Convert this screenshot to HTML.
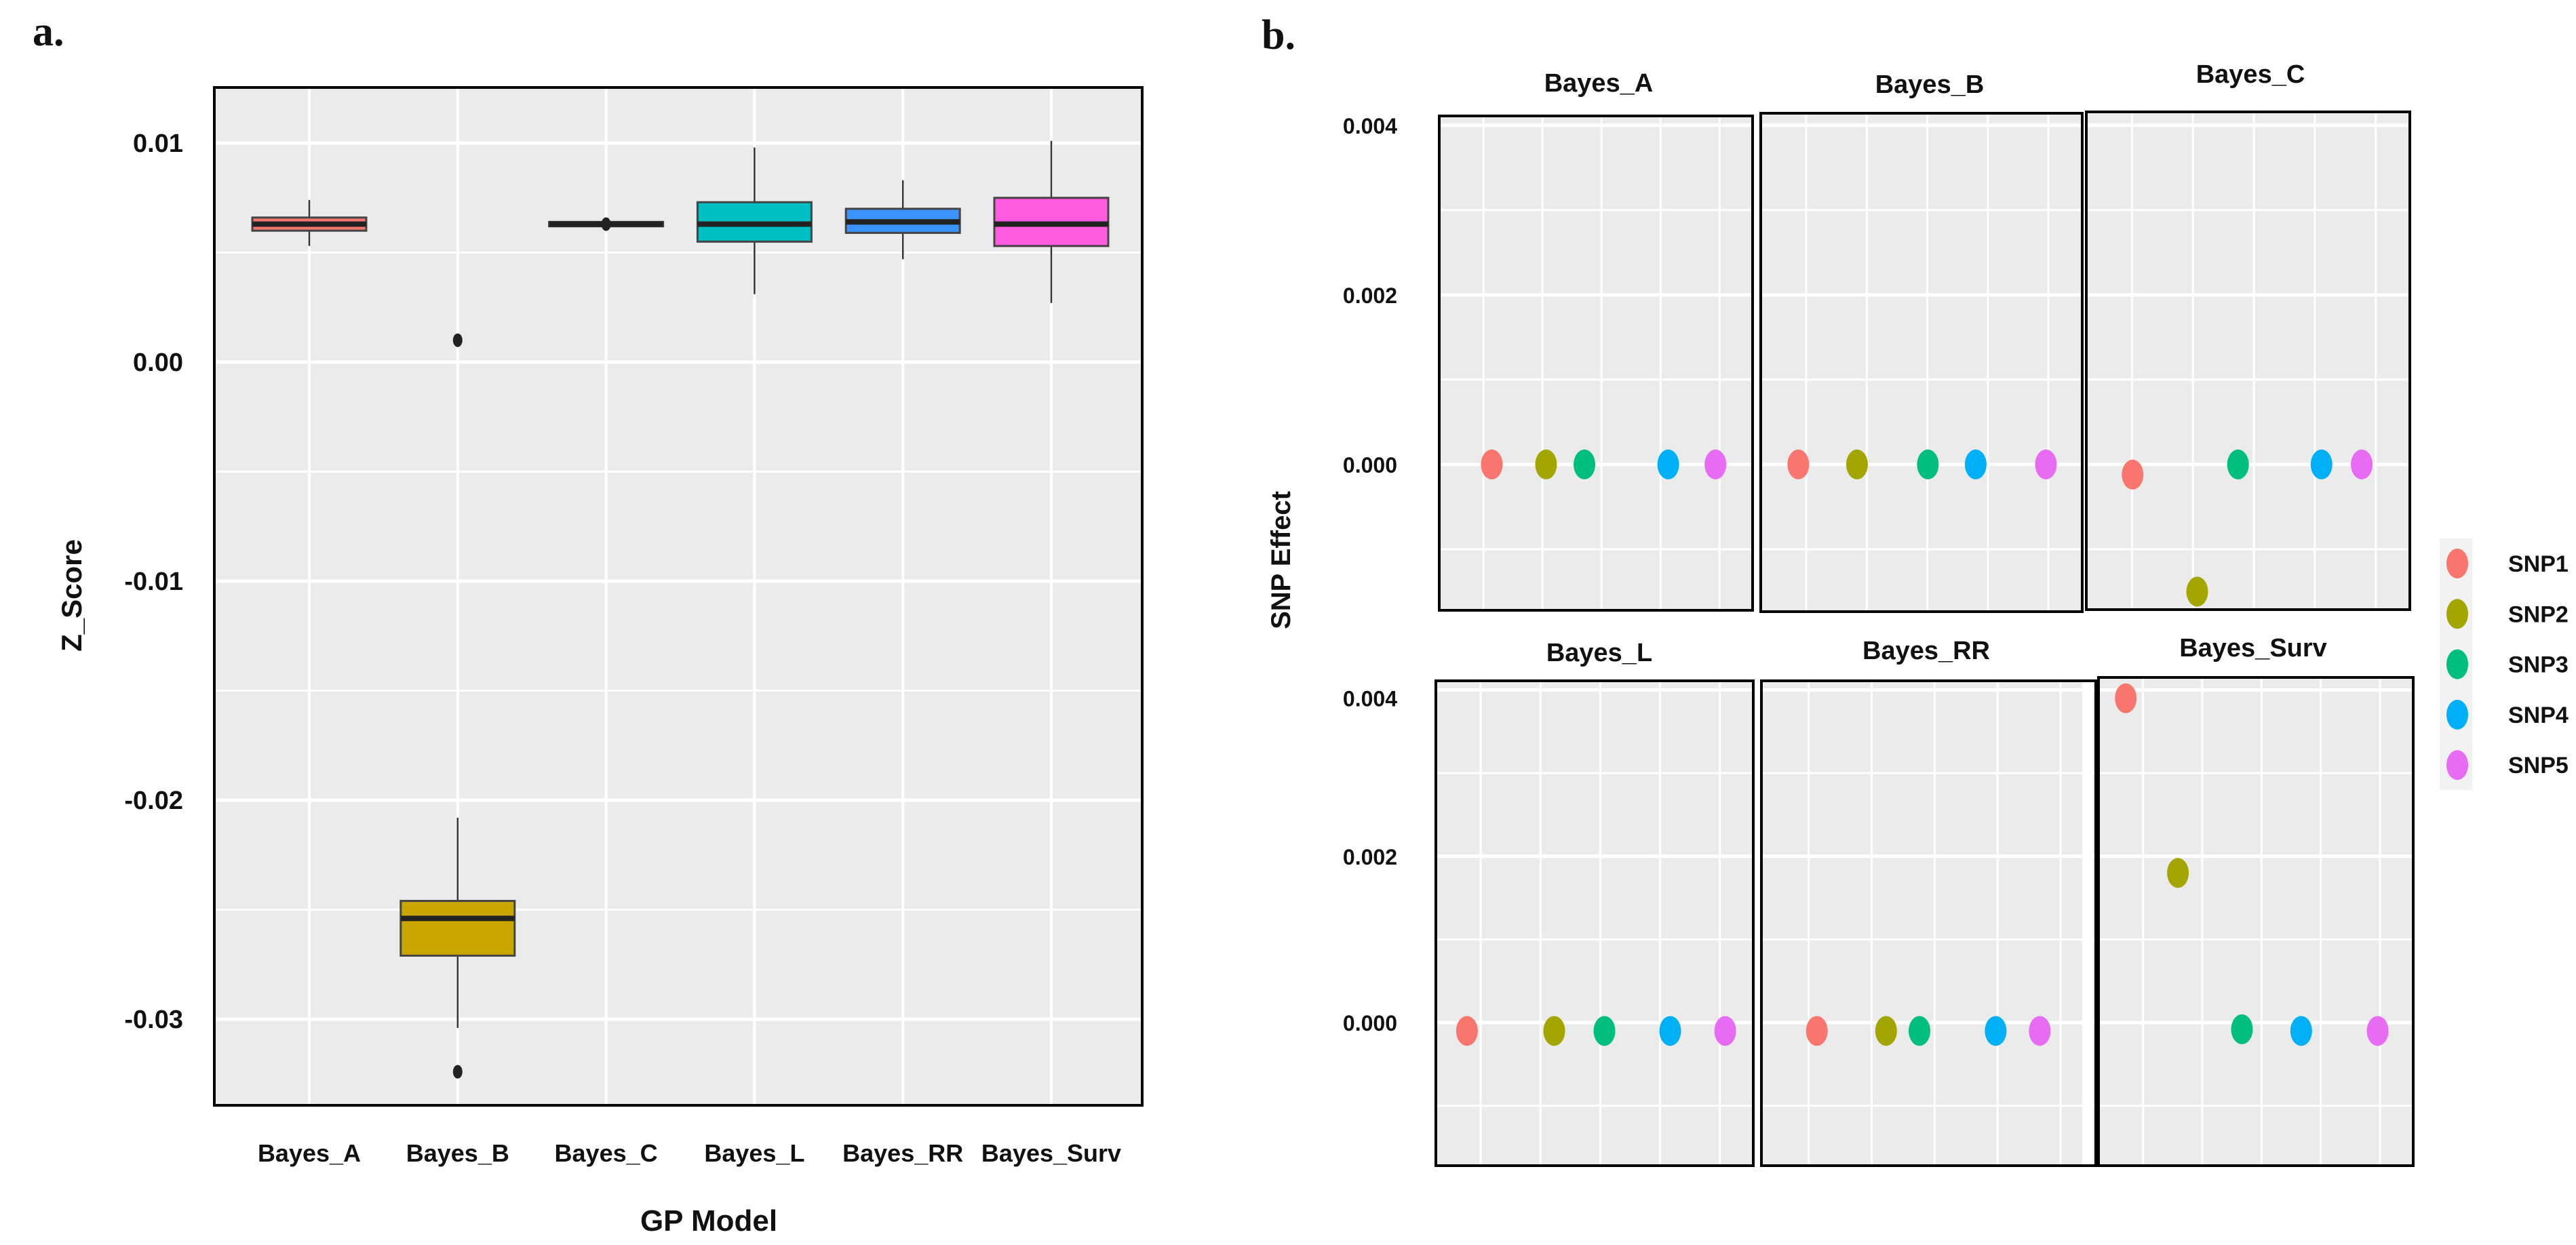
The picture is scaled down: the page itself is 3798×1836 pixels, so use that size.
<!DOCTYPE html>
<html><head><meta charset="utf-8"><style>
html,body{margin:0;padding:0;background:#fff}
svg{display:block}
text{font-family:"Liberation Sans",sans-serif;font-weight:bold;fill:#111}
</style></head><body>
<svg id="fig" width="3798" height="1836" viewBox="0 0 3798 1836" xmlns="http://www.w3.org/2000/svg">
<g id="left"></g>
<g id="right"></g>
</svg>
<script>
// ---------- Panel a data ----------
const models = ["Bayes_A","Bayes_B","Bayes_C","Bayes_L","Bayes_RR","Bayes_Surv"];
const boxColors = ["#F8766D","#C9A600","#00BA38","#00BFC4","#3A93FF","#FF5AE0"];
const whiskerLow = [0.0053,-0.0304,0.0063,0.0031,0.0047,0.0027];
const q1 = [0.0060,-0.0271,0.0062,0.0055,0.0059,0.0053];
const median = [0.0063,-0.0254,0.0063,0.0063,0.0064,0.0063];
const q3 = [0.0066,-0.0246,0.0064,0.0073,0.0070,0.0075];
const whiskerHigh = [0.0074,-0.0208,0.0063,0.0098,0.0083,0.0101];
const outlierModel = [1,1,2];
const outlierValue = [0.0010,-0.0324,0.0063];
const yTicksA = [0.01,0.00,-0.01,-0.02,-0.03];
const yTickLabelsA = ["0.01","0.00","-0.01","-0.02","-0.03"];

// ---------- Panel b data ----------
const facetNames = ["Bayes_A","Bayes_B","Bayes_C","Bayes_L","Bayes_RR","Bayes_Surv"];
const snpNames = ["SNP1","SNP2","SNP3","SNP4","SNP5"];
const snpColors = ["#F8766D","#A3A500","#00BF7D","#00B0F6","#E76BF3"];
const snpX = [
 [1.14,2.06,2.71,4.13,4.93],
 [0.87,1.84,3.01,3.80,4.96],
 [1.01,2.07,2.74,4.11,4.77],
 [0.77,2.23,3.07,4.17,5.09],
 [1.13,2.23,2.76,3.97,4.67],
 [0.71,1.59,2.67,3.67,4.96]
];
const snpEffect = [
 [0,0,0,0,0],
 [0,0,0,0,0],
 [-0.00012,-0.0015,0,0,0],
 [-0.0001,-0.0001,-0.0001,-0.0001,-0.0001],
 [-0.0001,-0.0001,-0.0001,-0.0001,-0.0001],
 [0.0039,0.0018,-0.00008,-0.0001,-0.0001]
];
const yTicksB = [0.004,0.002,0.000];
const yTickLabelsB = ["0.004","0.002","0.000"];

const NS="http://www.w3.org/2000/svg";
function mk(tag,attrs,parent){const e=document.createElementNS(NS,tag);for(const k in attrs)e.setAttribute(k,attrs[k]);parent.appendChild(e);return e;}

// ---------- Panel a ----------
const L=document.getElementById('left');
const A={x0:316,x1:1684,y0:129,y1:1630};
const yA=v=>534-v*32300;
const xA=i=>456+i*218.8;
let t=mk('text',{x:48,y:67,'font-size':62,style:'font-family:"Liberation Serif",serif;font-weight:bold'},L);


t.textContent='a.';
let bg=mk('rect',{x:A.x0,y:A.y0,width:A.x1-A.x0,height:A.y1-A.y0,fill:'#EBEBEB'},L);


for(let i=0;i<yTicksA.length-1;i++){
 const m=(yTicksA[i]+yTicksA[i+1])/2;
 const g=mk('line',{x1:A.x0,x2:A.x1,y1:yA(m),y2:yA(m),stroke:'#fff','stroke-width':3},L);
 
 
}
yTicksA.forEach((v,i)=>{
 const g=mk('line',{x1:A.x0,x2:A.x1,y1:yA(v),y2:yA(v),stroke:'#fff','stroke-width':5},L);
 
 
 const tx=mk('text',{x:270,y:yA(v)+13,'text-anchor':'end','font-size':38},L);
 
 
 tx.textContent=yTickLabelsA[i];
});
models.forEach((m,i)=>{
 const g=mk('line',{x1:xA(i),x2:xA(i),y1:A.y0,y2:A.y1,stroke:'#fff','stroke-width':4},L);
 
 
});
models.forEach((m,i)=>{
 const cx=xA(i),hw=84;
 const w=mk('line',{x1:cx,x2:cx,y1:yA(whiskerHigh[i]),y2:yA(whiskerLow[i]),stroke:'#333','stroke-width':2.5},L);
 
 
 const b=mk('rect',{x:cx-hw,y:yA(q3[i]),width:hw*2,height:Math.max(yA(q1[i])-yA(q3[i]),4),fill:boxColors[i],stroke:'#444','stroke-width':3},L);
 
 
 const md=mk('line',{x1:cx-hw,x2:cx+hw,y1:yA(median[i]),y2:yA(median[i]),stroke:'#222','stroke-width':8},L);
 
 
 const lb=mk('text',{x:cx,y:1713,'text-anchor':'middle','font-size':36},L);
 
 
 lb.textContent=m;
});
outlierValue.forEach((v,k)=>{
 const o=mk('ellipse',{cx:xA(outlierModel[k]),cy:yA(v),rx:7,ry:10,fill:'#222'},L);
 
 
});
let fr=mk('rect',{x:A.x0,y:A.y0,width:A.x1-A.x0,height:A.y1-A.y0,fill:'none',stroke:'#000','stroke-width':4},L);


t=mk('text',{x:1045,y:1815,'text-anchor':'middle','font-size':44},L);


t.textContent='GP Model';
t=mk('text',{x:0,y:0,'text-anchor':'middle','font-size':42,transform:'translate(120,878) rotate(-90)'},L);


t.textContent='Z_Score';

// ---------- Panel b ----------
const R=document.getElementById('right');
const facetBox=[
 {x0:2122,x1:2584,y0:171,y1:900,tx:2357,ty:135},
 {x0:2596,x1:3070,y0:167,y1:902,tx:2845,ty:137},
 {x0:3076,x1:3553,y0:165,y1:899,tx:3318,ty:122},
 {x0:2117,x1:2585,y0:1004,y1:1719,tx:2358,ty:975},
 {x0:2597,x1:3090,y0:1004,y1:1719,tx:2840,ty:972},
 {x0:3094,x1:3558,y0:999,y1:1719,tx:3322,ty:968}
];
const xDom=[0.25,5.56], yDom=[-0.00172,0.00411];
t=mk('text',{x:1860,y:72,'font-size':62,style:'font-family:"Liberation Serif",serif;font-weight:bold'},R);


t.textContent='b.';
facetBox.forEach((f,fi)=>{
 const row=fi<3?0:1;
 const rowTop=row===0?171:1004, rowBot=row===0?900:1719;
 const xs=v=>f.x0+(v-xDom[0])/(xDom[1]-xDom[0])*(f.x1-f.x0);
 const ys=v=>rowBot-(v-yDom[0])/(yDom[1]-yDom[0])*(rowBot-rowTop);
 const g=mk('g',{},R);
 
 
 const r=mk('rect',{x:f.x0,y:f.y0,width:f.x1-f.x0,height:f.y1-f.y0,fill:'#EBEBEB'},g);
 
 
 [-0.001,0.001,0.003].forEach(v=>{
  const l=mk('line',{x1:f.x0,x2:f.x1,y1:ys(v),y2:ys(v),stroke:'#fff','stroke-width':3},g);
  
  
 });
 yTicksB.forEach(v=>{
  const l=mk('line',{x1:f.x0,x2:f.x1,y1:ys(v),y2:ys(v),stroke:'#fff','stroke-width':5},g);
  
  
 });
 [1,2,3,4,5].forEach(v=>{
  const l=mk('line',{x1:xs(v),x2:xs(v),y1:f.y0,y2:f.y1,stroke:'#fff','stroke-width':3},g);
  
  
 });
 if(fi===4){
  const ws=mk('rect',{x:3070,y:f.y0,width:16,height:f.y1-f.y0,fill:'#fff'},g);
  
  
 }
 snpX[fi].forEach((xv,si)=>{
  const p=mk('ellipse',{cx:xs(xv),cy:ys(snpEffect[fi][si]),rx:16,ry:22,fill:snpColors[si]},g);
  
  
 });
 const fb=mk('rect',{x:f.x0,y:f.y0,width:f.x1-f.x0,height:f.y1-f.y0,fill:'none',stroke:'#000','stroke-width':4},g);
 
 
 const ft=mk('text',{x:f.tx,y:f.ty,'text-anchor':'middle','font-size':38},g);
 
 
 ft.textContent=facetNames[fi];
 if(fi===0||fi===3){
  yTicksB.forEach((v,k)=>{
   const tx=mk('text',{x:2060,y:ys(v)+12-(row===1&&k===0?-12:0),'text-anchor':'end','font-size':32},R);
   
   
   tx.textContent=yTickLabelsB[k];
  });
 }
});
t=mk('text',{x:0,y:0,'text-anchor':'middle','font-size':40,transform:'translate(1902,826) rotate(-90)'},R);


t.textContent='SNP Effect';
const lg=mk('g',{},R);


const lbg=mk('rect',{x:3597,y:794,width:48,height:371,fill:'#F2F2F2'},lg);


snpNames.forEach((s,i)=>{
 const cy=831+i*74.3;
 const d=mk('ellipse',{cx:3623,cy:cy,rx:16,ry:22,fill:snpColors[i]},lg);
 
 
 const tx=mk('text',{x:3698,y:cy+12,'font-size':34},lg);
 
 
 tx.textContent=s;
});
</script>
</body></html>
